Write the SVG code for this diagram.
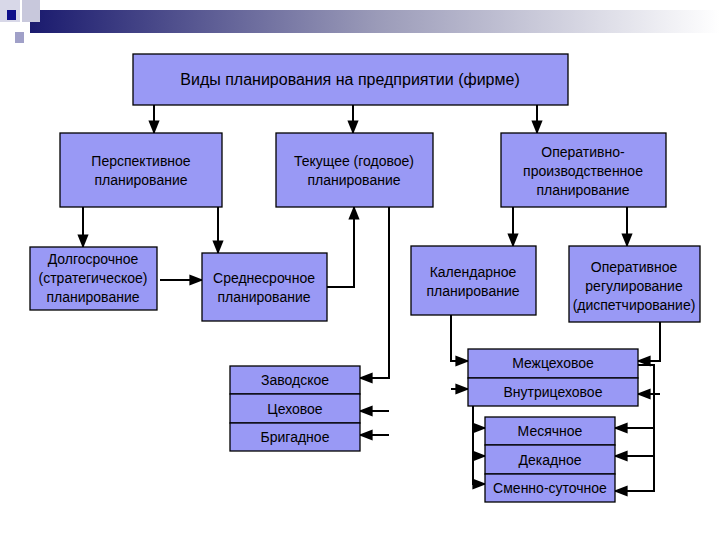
<svg xmlns="http://www.w3.org/2000/svg" width="720" height="540" viewBox="0 0 720 540">
<defs>
<linearGradient id="g" x1="0" x2="1" y1="0" y2="0"><stop offset="0" stop-color="#1a1a6e"/><stop offset="0.5" stop-color="#9a9ab8"/><stop offset="1" stop-color="#ffffff"/></linearGradient>
<marker id="a" viewBox="0 0 10 10" refX="9" refY="5" markerWidth="7" markerHeight="7" orient="auto"><path d="M0,1 L10,5 L0,9 z" fill="#000"/></marker>
</defs>
<style>
.b{fill:#9999f5;stroke:#000;stroke-width:1.3}
.t{font-family:"Liberation Sans",Arial,sans-serif;font-size:14px;fill:#000;text-anchor:middle}
.c{fill:none;stroke:#000;stroke-width:2}
.c path{marker-end:url(#a)}
</style>
<rect width="720" height="540" fill="#fff"/>
<g id="header">
<rect x="30" y="10" width="690" height="23" fill="url(#g)"/>
<rect x="0" y="0" width="20" height="22" fill="#d8d8e8"/>
<rect x="22" y="0" width="18" height="22" fill="#c8c8dc"/>
<rect x="7" y="10" width="9" height="10" fill="#10108a"/>
<rect x="15" y="32" width="9" height="11" fill="#a0a0c8"/>
</g>
<g class="c" id="connectors">
<path d="M154,105 V133"/><path d="M353,105 V133"/><path d="M537,105 V133"/>
<path d="M83,207 V247"/><path d="M218,207 V253"/><path d="M160,280 H202"/>
<path d="M327,287 H354 V207"/>
<path d="M513,207 V246"/><path d="M627,207 V246"/>
<path d="M389,207 V378 H360"/><path d="M389,411 H360"/><path d="M389,435 H360"/>
<path d="M451,315 V361 H468"/><path d="M451,389 H468"/>
<path d="M660,322 V361 H638"/><path d="M660,394 H638"/>
<path d="M638,365 H654 V491 H615"/><path d="M654,428 H615"/><path d="M654,456 H615"/>
<path d="M473,406 V484 H485"/><path d="M473,428 H485"/><path d="M473,456 H485"/>
</g>
<g id="title"><rect class="b" x="133" y="54" width="435" height="51"/><text class="t" x="350" y="85" style="font-size:16px">Виды планирования на предприятии (фирме)</text></g>
<g id="persp"><rect class="b" x="60" y="133" width="162" height="74"/><text class="t" x="141" y="166">Перспективное</text><text class="t" x="141" y="185">планирование</text></g>
<g id="tek"><rect class="b" x="276" y="133" width="157" height="74"/><text class="t" x="354" y="166">Текущее (годовое)</text><text class="t" x="354" y="185">планирование</text></g>
<g id="oper"><rect class="b" x="501" y="133" width="165" height="74"/><text class="t" x="583" y="157">Оперативно-</text><text class="t" x="583" y="176">производственное</text><text class="t" x="583" y="195">планирование</text></g>
<g id="dolg"><rect class="b" x="30" y="247" width="127" height="63"/><text class="t" x="93" y="264">Долгосрочное</text><text class="t" x="93" y="283">(стратегическое)</text><text class="t" x="93" y="302">планирование</text></g>
<g id="sred"><rect class="b" x="202" y="253" width="125" height="68"/><text class="t" x="264" y="283">Среднесрочное</text><text class="t" x="264" y="302">планирование</text></g>
<g id="kal"><rect class="b" x="411" y="246" width="125" height="69"/><text class="t" x="473" y="277">Календарное</text><text class="t" x="473" y="296">планирование</text></g>
<g id="reg"><rect class="b" x="569" y="246" width="131" height="76"/><text class="t" x="634" y="272">Оперативное</text><text class="t" x="634" y="291">регулирование</text><text class="t" x="634" y="310">(диспетчирование)</text></g>
<g id="zav"><rect class="b" x="230" y="366" width="130" height="28"/><text class="t" x="295" y="385">Заводское</text></g>
<g id="tseh"><rect class="b" x="230" y="394" width="130" height="29"/><text class="t" x="295" y="414">Цеховое</text></g>
<g id="brig"><rect class="b" x="230" y="423" width="130" height="28"/><text class="t" x="295" y="442">Бригадное</text></g>
<g id="mezh"><rect class="b" x="468" y="349" width="170" height="29"/><text class="t" x="553" y="368">Межцеховое</text></g>
<g id="vnutr"><rect class="b" x="468" y="378" width="170" height="28"/><text class="t" x="553" y="397">Внутрицеховое</text></g>
<g id="mes"><rect class="b" x="485" y="417" width="130" height="28"/><text class="t" x="550" y="436">Месячное</text></g>
<g id="dek"><rect class="b" x="485" y="445" width="130" height="29"/><text class="t" x="550" y="465">Декадное</text></g>
<g id="smen"><rect class="b" x="485" y="474" width="130" height="28"/><text class="t" x="550" y="493">Сменно-суточное</text></g>
</svg>
